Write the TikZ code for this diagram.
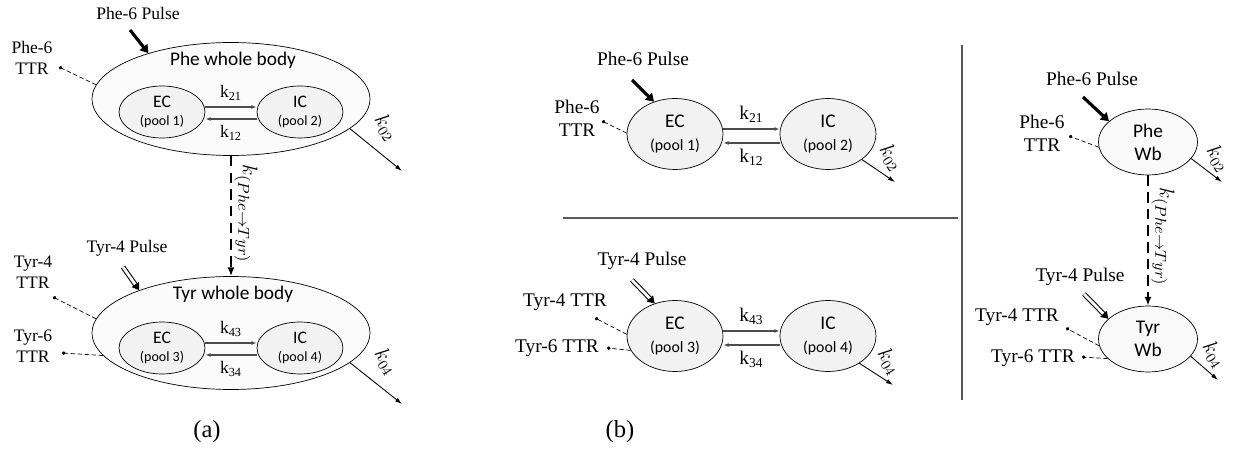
\documentclass[tikz,border=0pt]{standalone}
\usepackage{fontspec}
\setmainfont{Liberation Serif}
\newfontfamily\calfont{Carlito}
\usetikzlibrary{shapes.geometric,arrows.meta}
\tikzstyle{body} = [ellipse, draw, fill=gray!3, minimum width=5.56cm, minimum height=2.26cm]
\tikzstyle{poolA} = [ellipse, draw, fill=gray!10, inner sep=0pt, align=center,
    minimum width=1.72cm, minimum height=1.04cm, font=\calfont\fontsize{10}{11}\selectfont]
\tikzstyle{poolB} = [ellipse, draw, fill=gray!10, inner sep=0pt, align=center,
    minimum width=1.92cm, minimum height=1.42cm, font=\calfont\fontsize{11}{13}\selectfont]
\tikzstyle{wb} = [ellipse, draw, fill=gray!5, inner sep=0pt, align=center,
    minimum width=1.98cm, minimum height=1.32cm, font=\calfont\fontsize{11}{13}\selectfont]
\tikzstyle{title} = [font=\calfont\fontsize{11}{13}\selectfont]
\tikzstyle{labA} = [align=center, text=black, font=\fontsize{10}{12}\selectfont]
\tikzstyle{labB} = [align=center, text=black, font=\fontsize{11}{13}\selectfont]
\tikzstyle{klab} = [font=\fontsize{12}{14}\selectfont, rotate=-58, inner sep=1pt]
\tikzstyle{pulse} = [draw, line width=1.8pt, -{Triangle[length=4.5pt,width=5.5pt]}]
\tikzstyle{hollow} = [draw, double, double distance=1.6pt, line width=0.6pt,
    -{Triangle[length=4pt,width=5pt]}]
\tikzstyle{ttr} = [draw, dash pattern=on 2.5pt off 1.5pt, line width=0.4pt, -{Circle[length=2pt]}]
\tikzstyle{swap} = [draw, gray!60!black, line width=0.6pt, -{Latex[length=3pt,width=2.2pt]}]
\tikzstyle{efflux} = [draw, line width=0.5pt, -{Latex[length=4pt,width=2.5pt]}]
\tikzstyle{conv} = [draw, line width=1pt, dash pattern=on 6pt off 3.5pt, -{Latex[length=5pt,width=4pt]}]
\tikzstyle{sep} = [draw, gray!70!black, line width=0.6pt]

\begin{document}
\begin{tikzpicture}[x=0.02cm, y=-0.02cm, node distance=2.76cm]
  \useasboundingbox (0,0) rectangle (1238,452);
   % Place nodes: (a)
    \node [body] (pheA) at (231,99) {};
    \node [title] (pheAtitle) at (233,60) {Phe whole body};
    \node [poolA] (ecA) at (162,112) {EC\\[-1pt]{\fontsize{8}{9}\selectfont(pool 1)}};
    \node [poolA, right of=ecA] (icA) {IC\\[-1pt]{\fontsize{8}{9}\selectfont(pool 2)}};
    \node [body] (tyrA) at (231,333) {};
    \node [title] (tyrAtitle) at (233,294) {Tyr whole body};
    \node [poolA] (ecA2) at (162,348) {EC\\[-1pt]{\fontsize{8}{9}\selectfont(pool 3)}};
    \node [poolA, right of=ecA2] (icA2) {IC\\[-1pt]{\fontsize{8}{9}\selectfont(pool 4)}};
    \node [labA] (pulseAlab) at (138,13) {Phe-6 Pulse};
    \node [labA] (ttrAlab) at (32,58) {Phe-6\\TTR};
    \node [labA] (pulseA2lab) at (127,248) {Tyr-4 Pulse};
    \node [labA] (ttrA4lab) at (33,272) {Tyr-4\\TTR};
    \node [labA] (ttrA6lab) at (33,346) {Tyr-6\\TTR};
    \node [klab] (k02Alab) at (386,128) {$k_{02}$};
    \node [klab] (k04Alab) at (386,362) {$k_{04}$};
    \node [rotate=-90, font=\fontsize{13}{15}\selectfont] (convAlab) at (246,214) {$k_{(Phe\rightarrow Tyr)}$};
    \node [font=\fontsize{14}{16}\selectfont] (capA) at (207,432) {(a)};
    \coordinate (pulseA) at (130,30);
    \coordinate (pulseA2) at (123,267);
    \coordinate (ttrA) at (59,67);
    \coordinate (ttrA4) at (53,297);
    \coordinate (ttrA6) at (62,353);
    \coordinate (k02A) at (402,171);
    \coordinate (k04A) at (402,404);
   % Place nodes: (b) left
    \node [poolB] (ecB) at (675,134) {EC\\{\fontsize{9}{10}\selectfont(pool 1)}};
    \node [poolB, right of=ecB, node distance=3.06cm] (icB) {IC\\{\fontsize{9}{10}\selectfont(pool 2)}};
    \node [poolB] (ecB2) at (675,336) {EC\\{\fontsize{9}{10}\selectfont(pool 3)}};
    \node [poolB, right of=ecB2, node distance=3.06cm] (icB2) {IC\\{\fontsize{9}{10}\selectfont(pool 4)}};
    \node [labB] (pulseBlab) at (643,59) {Phe-6 Pulse};
    \node [labB] (ttrBlab) at (577,118) {Phe-6\\TTR};
    \node [labB] (pulseB2lab) at (642,261) {Tyr-4 Pulse};
    \node [labB] (ttrB4lab) at (565,302) {Tyr-4 TTR};
    \node [labB] (ttrB6lab) at (557,348) {Tyr-6 TTR};
    \node [klab] (k02Blab) at (891,158) {$k_{02}$};
    \node [klab] (k04Blab) at (889,362) {$k_{04}$};
    \node [font=\fontsize{14}{16}\selectfont] (capB) at (620,432) {(b)};
    \coordinate (pulseB) at (632,80);
    \coordinate (pulseB2) at (632,280);
    \coordinate (ttrB) at (602,121);
    \coordinate (ttrB4) at (595,318);
    \coordinate (ttrB6) at (607,348);
    \coordinate (k02B) at (895,182);
    \coordinate (k04B) at (893,385);
   % Place nodes: (b) right
    \node [wb] (pheW) at (1148,142) {Phe\\Wb};
    \node [wb] (tyrW) at (1148,339) {Tyr\\Wb};
    \node [labB] (pulseWlab) at (1092,79) {Phe-6 Pulse};
    \node [labB] (ttrWlab) at (1042,133) {Phe-6\\TTR};
    \node [labB] (pulseW2lab) at (1080,277) {Tyr-4 Pulse};
    \node [labB] (ttrW4lab) at (1017,317) {Tyr-4 TTR};
    \node [labB] (ttrW6lab) at (1033,358) {Tyr-6 TTR};
    \node [klab] (k02Wlab) at (1218,159) {$k_{02}$};
    \node [klab] (k04Wlab) at (1214,355) {$k_{04}$};
    \node [rotate=-90, font=\fontsize{13}{15}\selectfont] (convWlab) at (1163,237) {$k_{(Phe\rightarrow Tyr)}$};
    \coordinate (pulseW) at (1083,97);
    \coordinate (pulseW2) at (1084,294);
    \coordinate (ttrW) at (1069,136);
    \coordinate (ttrW4) at (1066,328);
    \coordinate (ttrW6) at (1082,357);
    \coordinate (k02W) at (1222,182);
    \coordinate (k04W) at (1218,380);
   % Draw edges: (a)
    \path [pulse] (pulseA) -- (pheA.151);
    \path [ttr] (pheA.174) -- (ttrA);
    \path [swap] ([yshift=0.1cm]ecA.east) -- ([yshift=0.1cm]icA.west)
    node [midway, above, labA] {k\textsubscript{21}};
    \path [swap] ([yshift=-0.14cm]icA.west) -- ([yshift=-0.14cm]ecA.east)
    node [midway, below, labA] {k\textsubscript{12}};
    \path [efflux] (pheA.-14) -- (k02A);
    \path [conv] (pheA) -- (tyrA);
    \path [hollow] (pulseA2) -- (tyrA.155);
    \path [ttr] (tyrA.174) -- (ttrA4);
    \path [ttr] (tyrA.190) -- (ttrA6);
    \path [swap] ([yshift=0.1cm]ecA2.east) -- ([yshift=0.1cm]icA2.west)
    node [midway, above, labA] {k\textsubscript{43}};
    \path [swap] ([yshift=-0.14cm]icA2.west) -- ([yshift=-0.14cm]ecA2.east)
    node [midway, below, labA] {k\textsubscript{34}};
    \path [efflux] (tyrA.-14) -- (k04A);
   % Draw edges: (b) left
    \path [pulse] (pulseB) -- (ecB.123);
    \path [ttr] (ecB.179) -- (ttrB);
    \path [swap] ([yshift=0.1cm]ecB.east) -- ([yshift=0.1cm]icB.west)
    node [midway, above, labB] {k\textsubscript{21}};
    \path [swap] ([yshift=-0.18cm]icB.west) -- ([yshift=-0.18cm]ecB.east)
    node [midway, below, labB] {k\textsubscript{12}};
    \path [efflux] (icB.-37) -- (k02B);
    \path [hollow] (pulseB2) -- (ecB2.122);
    \path [ttr] (ecB2.178) -- (ttrB4);
    \path [ttr] (ecB2.198) -- (ttrB6);
    \path [swap] ([yshift=0.1cm]ecB2.east) -- ([yshift=0.1cm]icB2.west)
    node [midway, above, labB] {k\textsubscript{43}};
    \path [swap] ([yshift=-0.18cm]icB2.west) -- ([yshift=-0.18cm]ecB2.east)
    node [midway, below, labB] {k\textsubscript{34}};
    \path [efflux] (icB2.-41) -- (k04B);
   % Draw edges: (b) right
    \path [pulse] (pulseW) -- (pheW.152);
    \path [ttr] (pheW.186) -- (ttrW);
    \path [efflux] (pheW.-21) -- (k02W);
    \path [conv] (pheW) -- (tyrW);
    \path [hollow] (pulseW2) -- (tyrW.153);
    \path [ttr] (tyrW.188) -- (ttrW4);
    \path [ttr] (tyrW.206) -- (ttrW6);
    \path [efflux] (tyrW.-22) -- (k04W);
   % Separators
    \path [sep] (563,218) -- (958,218);
    \path [sep] (962,45) -- (962,400);
\end{tikzpicture}
\end{document}
